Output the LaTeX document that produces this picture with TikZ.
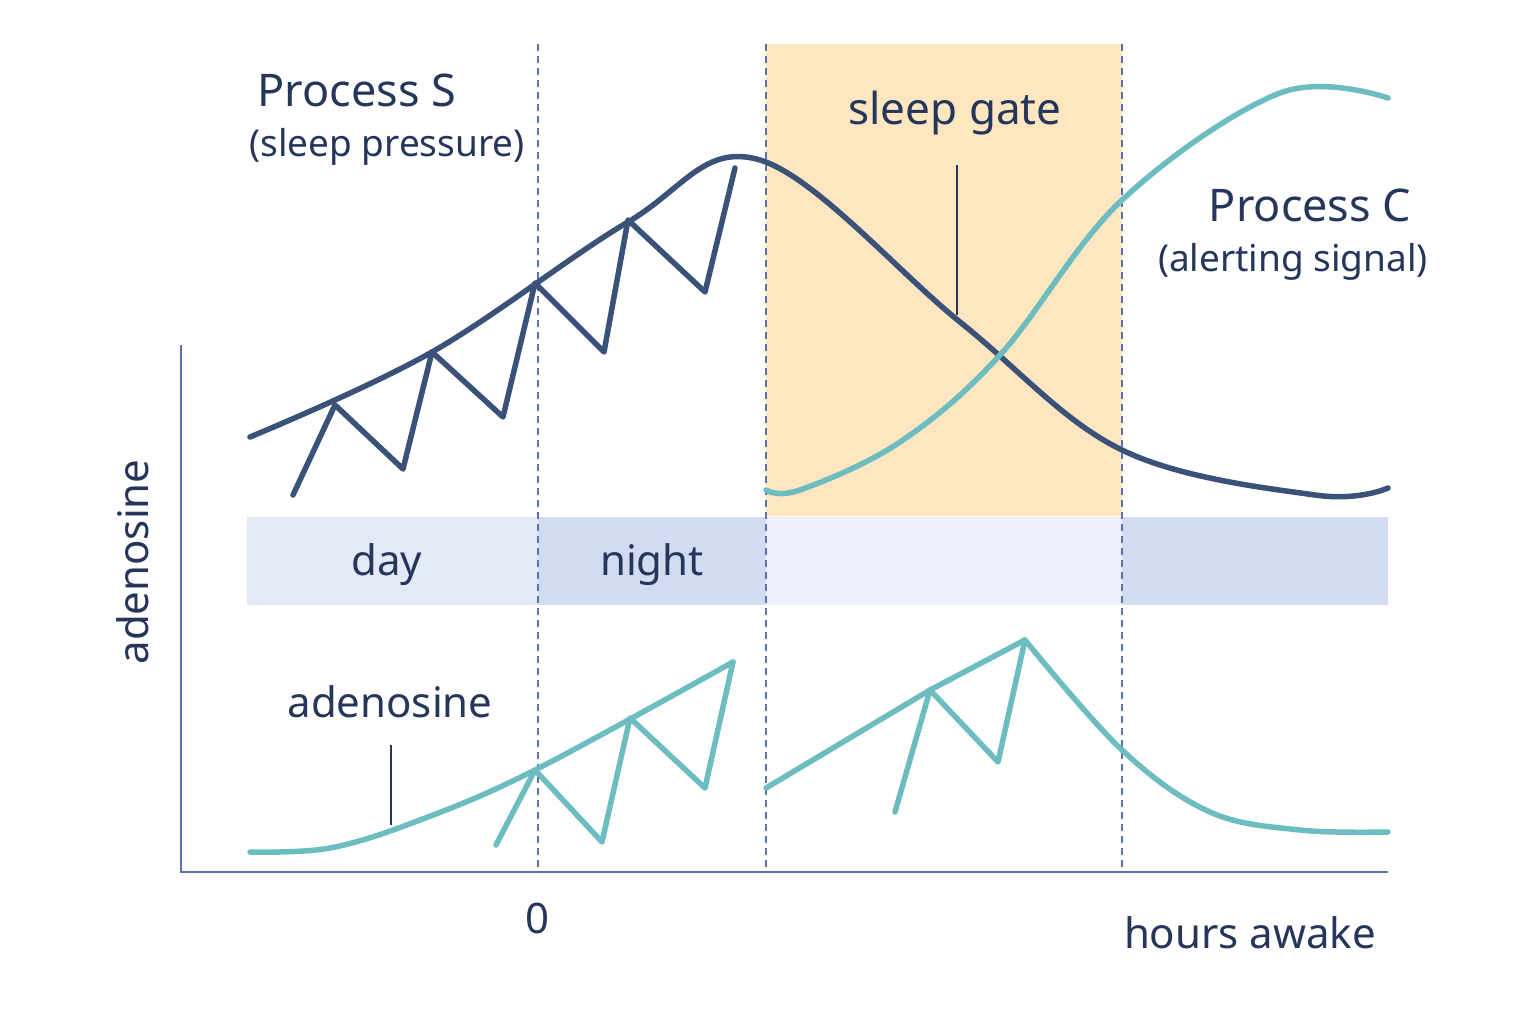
\documentclass[tikz,border=0pt]{standalone}
\usepackage{fontspec}
\setmainfont{Noto Sans}
\begin{document}
\begin{tikzpicture}[x=1pt,y=-1pt,
 txt/.style={text=tc,inner sep=0pt},
 dark/.style={draw=dk,line width=5.5pt,line join=round,line cap=round},
 teal/.style={draw=tl,line width=5.5pt,line join=round,line cap=round},
 vdash/.style={draw=ax,line width=1.6pt,dash pattern=on 7pt off 5pt}]
\definecolor{tc}{HTML}{25365A}
\definecolor{dk}{HTML}{3B5278}
\definecolor{tl}{HTML}{6DBDC0}
\definecolor{ax}{HTML}{5A70B0}
\definecolor{gate}{HTML}{FDE6C0}
\definecolor{b1}{HTML}{E3E9F7}
\definecolor{b2}{HTML}{D1DBF1}
\definecolor{b3}{HTML}{EEF1FB}
\useasboundingbox (0,0) rectangle (1536,1024);
\fill[white] (0,0) rectangle (1536,1024);
\fill[gate] (766,44) rectangle (1122,516);
\fill[b1] (247,517) rectangle (538,605);
\fill[b2] (538,517) rectangle (766,605);
\fill[b3] (766,517) rectangle (1122,605);
\fill[b2] (1122,517) rectangle (1388,605);
\foreach \x in {538,766,1122} \draw[vdash] (\x,44) -- (\x,872);
\draw[ax,line width=2.2pt] (181,345) -- (181,872) -- (1388,872);
% Process S
\draw[dark] plot[smooth,tension=0.6] coordinates {(250,437) (432,352) (628,222) (760,160) (960,322) (1122,450) (1315,495) (1388,488)};
\draw[dark] (293,495)--(335,405)--(403,469)--(432,352)--(503,417)--(535,283)--(604,352)--(628,220)--(705,292)--(735,168);
% Process C
\draw[teal] plot[smooth,tension=0.6] coordinates {(766,490) (800,490) (900,442) (1000,355) (1122,200) (1280,93) (1388,98)};
\draw[tc,line width=1.5pt] (957,165) -- (957,315);
% adenosine
\draw[teal] plot[smooth,tension=0.6] coordinates {(250,852) (330,848) (420,820) (535,770) (733,662)};
\draw[teal] (496,845)--(535,770)--(602,842)--(630,718)--(705,788)--(733,662);
\draw[teal] (766,788)--(930,690)--(1025,640);
\draw[teal] plot[smooth,tension=0.6] coordinates {(1025,640) (1122,750) (1210,812) (1300,830) (1388,832)};
\draw[teal] (895,812)--(930,690)--(998,762)--(1025,640);
\draw[tc,line width=1.5pt] (391,745) -- (391,825);
% texts
\node[txt,font=\fontsize{45}{50}\selectfont] (ps) at (357,90) {Process S};
\node[txt,font=\fontsize{37}{42}\selectfont] (psl) at (387,147) {(sleep pressure)};
\node[txt,font=\fontsize{44}{48}\selectfont] (sg) at (955,113) {sleep gate};
\node[txt,font=\fontsize{45}{50}\selectfont] (pc) at (1310,205) {Process C};
\node[txt,font=\fontsize{37}{42}\selectfont] (pcl) at (1293,262) {(alerting signal)};
\node[txt,font=\fontsize{42}{46}\selectfont] (day) at (387,565) {day};
\node[txt,font=\fontsize{42}{46}\selectfont] (night) at (652,565) {night};
\node[txt,font=\fontsize{42}{46}\selectfont] (ad) at (390,702) {adenosine};
\node[txt,font=\fontsize{42}{46}\selectfont,rotate=90] (yl) at (133,562) {adenosine};
\node[txt,font=\fontsize{42}{46}\selectfont] (zero) at (538,918) {0};
\node[txt,font=\fontsize{42}{46}\selectfont] (ha) at (1250,933) {hours awake};
\end{tikzpicture}
\end{document}
